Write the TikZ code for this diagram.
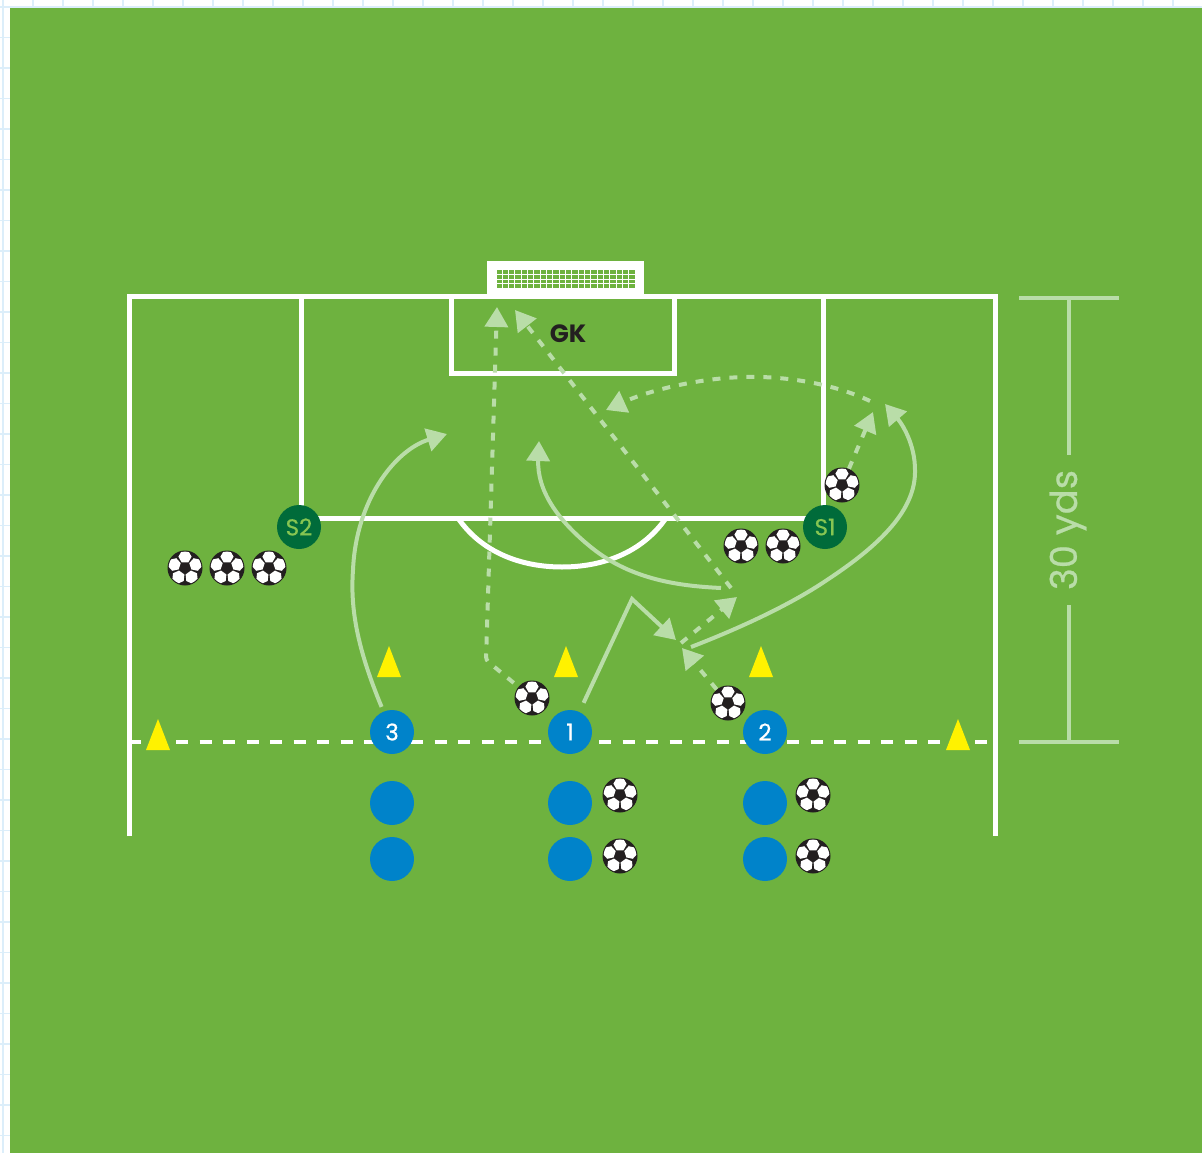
\documentclass[tikz,border=0pt]{standalone}
\usepackage{fontspec}
\setmainfont{Poppins}
\newfontfamily\medf[FakeBold=0.6]{Poppins}
\usetikzlibrary{arrows.meta,calc}
\definecolor{pitch}{HTML}{6EB23F}
\definecolor{pale}{HTML}{B9DDA8}
\definecolor{bluep}{HTML}{0083CA}
\definecolor{darkg}{HTML}{006B3A}
\definecolor{lightg}{HTML}{86C552}
\definecolor{conecol}{HTML}{FFF200}
\definecolor{gridc}{HTML}{DCEEFA}
\definecolor{inkc}{HTML}{231F20}
\newcommand{\ballart}{%
  \begin{scope}[shift={(path picture bounding box.center)}]
    \clip (0,0) circle[radius=16.4pt];
    \foreach \ang in {90,18,162,-54,-126}{
      \fill[white] ($(\ang:11.3pt)+(\ang+30:6.6pt)$) -- ($(\ang:11.3pt)+(\ang+90:6.6pt)$) -- ($(\ang:11.3pt)+(\ang+150:6.6pt)$) -- ($(\ang:11.3pt)+(\ang+210:6.6pt)$) -- ($(\ang:11.3pt)+(\ang+270:6.6pt)$) -- ($(\ang:11.3pt)+(\ang+330:6.6pt)$) -- cycle;
    }
  \end{scope}}
\tikzset{
  x=1pt,y=-1pt,
  fieldline/.style={draw=white,line width=5pt,line join=miter},
  player/.style={circle,fill=bluep,minimum size=44pt,inner sep=0pt,text=white,font=\medf\fontsize{23}{23}\selectfont},
  server/.style={circle,fill=darkg,minimum size=44pt,inner sep=0pt,text=lightg,font=\medf\fontsize{23}{23}\selectfont},
  ball/.style={circle,fill=inkc,minimum size=35pt,inner sep=0pt,path picture={\ballart}},
  cone/.style={fill=conecol},
  runline/.style={draw=pale,line width=4pt,-{Triangle[length=20pt,width=23pt]}},
  passline/.style={draw=pale,line width=4pt,dash pattern=on 8pt off 9pt,-{Triangle[length=20pt,width=23pt]}},
  dimline/.style={draw=pale,line width=4pt},
}
\begin{document}
\begin{tikzpicture}
\useasboundingbox (0,0) rectangle (1202,1153);
% page grid and pitch
\fill[white] (0,0) rectangle (1202,1153);
\foreach \gx in {3,33,...,1202}{\draw[gridc,line width=1.5pt] (\gx,0) -- (\gx,1153);}
\foreach \gy in {7,37.5,...,1153}{\draw[gridc,line width=1.5pt] (0,\gy) -- (1202,\gy);}
\fill[pitch] (10,8) rectangle (1202,1153);
% field lines
\draw[fieldline] (129,836) -- (129,296) -- (995,296) -- (995,836);
\draw[fieldline] (301,296) -- (301,518) -- (823,518) -- (823,296);
\draw[fieldline] (451,296) -- (451,373) -- (674,373) -- (674,296);
\draw[fieldline] (458,518) .. controls (482,553) and (522,567) .. (562,567) .. controls (602,567) and (642,553) .. (666,518);
\draw[draw=white,line width=4pt,dash pattern=on 12pt off 11.5pt] (129,742) -- (995,742);
% goal
\fill[white] (487,261) rectangle (644,296);
\fill[pitch] (496,270) rectangle (635,288);
\foreach \nx in {0,...,22}{\draw[white,line width=1pt] (496+\nx*6.32,270) -- (496+\nx*6.32,288);}
\foreach \ny in {1,2,3}{\draw[white,line width=1pt] (496,270+\ny*4.5) -- (635,270+\ny*4.5);}
% dimension
\coordinate (dimTopL) at (1019,298);
\coordinate (dimTopR) at (1119,298);
\coordinate (dimBotL) at (1019,742);
\coordinate (dimBotR) at (1119,742);
\coordinate (dimTopM) at (1069,298);
\coordinate (dimBotM) at (1069,742);
\draw[dimline] (dimTopL) -- (dimTopR);
\draw[dimline] (dimBotL) -- (dimBotR);
\node[rotate=90,text=pale,font=\medf\fontsize{37}{37}\selectfont,inner sep=0pt] (dimlabel) at (1068,530) {30 yds};
\draw[dimline] (dimTopM) -- (1069,455);
\draw[dimline] (1069,605) -- (dimBotM);
% cones
\foreach \cx/\cy in {389/646,566/646,761/646,158/719,958/719}{
  \fill[cone] (\cx,\cy) -- (\cx+12,\cy+31) -- (\cx-12,\cy+31) -- cycle;
}
% goalkeeper
\node[text=inkc,font=\fontsize{25}{25}\selectfont\bfseries,inner sep=0pt] (gk) at (568,334) {GK};
% players
\node[player] (p3) at (392,732) {3};
\node[player] (p1) at (570,732) {1};
\node[player] (p2) at (765,732) {2};
\node[player] (p3b) at (392,803) {};
\node[player] (p3c) at (392,859) {};
\node[player] (p1b) at (570,803) {};
\node[player] (p1c) at (570,859) {};
\node[player] (p2b) at (765,803) {};
\node[player] (p2c) at (765,859) {};
\node[server] (s2) at (299,527) {S2};
\node[server] (s1) at (825,527) {S1};
% balls
\node[ball] (b1) at (185,568) {};
\node[ball] (b2) at (227,568) {};
\node[ball] (b3) at (269,568) {};
\node[ball] (b4) at (741,546) {};
\node[ball] (b5) at (783,546) {};
\node[ball] (b6) at (842,485) {};
\node[ball] (b7) at (532,698) {};
\node[ball] (b8) at (728,703) {};
\node[ball] (b9) at (620,795) {};
\node[ball] (b10) at (620,856) {};
\node[ball] (b11) at (813,795) {};
\node[ball] (b12) at (813,856) {};
% free ends
\coordinate (t3) at (447,434);
\coordinate (apex) at (632,599);
\coordinate (t1) at (676,640);
\coordinate (c2s) at (691,647);
\coordinate (t2) at (885,404);
\coordinate (c1s) at (721,588);
\coordinate (t1b) at (539,441);
\coordinate (corner) at (486,660);
\coordinate (tGoalA) at (497,307);
\coordinate (f1s) at (731,588);
\coordinate (tGoalB) at (515,310);
\coordinate (g1s) at (681,643);
\coordinate (tg) at (737,597);
\coordinate (th) at (682,648);
\coordinate (ti) at (873,412);
\coordinate (j1s) at (870,401);
\coordinate (tj) at (606,410);
% runs
\draw[runline,shorten <=5pt] (p3) .. controls (358,650) and (350,610) .. (353,570) .. controls (356,500) and (395,450) .. (t3);
\draw[runline,shorten <=10pt,line join=miter] (p1) -- (apex) -- (t1);
\draw[runline] (c2s) .. controls (740,628) and (790,605) .. (827,580) .. controls (880,545) and (916,510) .. (915,470) .. controls (915,445) and (903,425) .. (t2);
\draw[runline] (c1s) .. controls (680,586) and (632,580) .. (592,548) .. controls (557,520) and (537,490) .. (t1b);
% passes
\draw[passline,shorten <=6pt,rounded corners=3pt] (b7) -- (corner) -- (tGoalA);
\draw[passline] (f1s) -- (tGoalB);
\draw[passline] (g1s) -- (tg);
\draw[passline] (b8) -- (th);
\draw[passline] (b6) -- (ti);
\draw[passline] (j1s) .. controls (830,382) and (780,376) .. (745,377) .. controls (700,378) and (650,390) .. (tj);
\end{tikzpicture}
\end{document}
